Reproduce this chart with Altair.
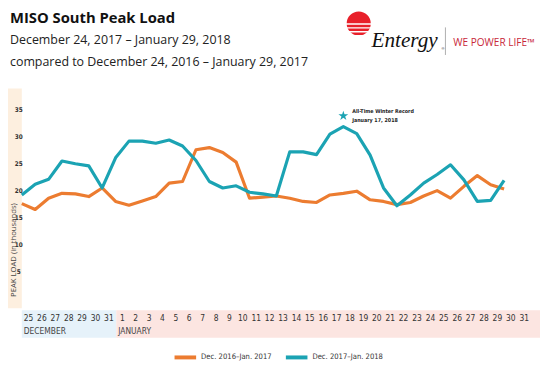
import altair as alt
import pandas as pd

# ---------------- data ----------------
day_names = (["Dec 24", "Dec 25", "Dec 26", "Dec 27", "Dec 28", "Dec 29", "Dec 30", "Dec 31"]
             + [f"Jan {i}" for i in range(1, 30)])
load_2016_17 = [17.6, 16.5, 18.6, 19.5, 19.4, 18.9, 20.5, 18.0,
                17.3, 18.1, 18.9, 21.4, 21.7, 27.6, 28.0, 27.1, 25.3, 18.6, 18.8, 19.0,
                18.6, 18.0, 17.8, 19.2, 19.5, 19.9, 18.3, 18.0, 17.4, 17.8, 19.0, 20.0,
                18.6, 20.8, 22.8, 21.1, 20.3]
load_2017_18 = [19.2, 21.2, 22.1, 25.5, 25.0, 24.6, 20.5, 26.1,
                29.2, 29.2, 28.8, 29.4, 28.3, 25.6, 21.7, 20.5, 20.9, 19.7, 19.4, 19.0,
                27.2, 27.2, 26.7, 30.5, 31.9, 30.6, 26.6, 20.5, 17.2, 19.2, 21.4, 23.0,
                24.8, 22.0, 18.0, 18.2, 21.9]
series_names = ["Dec. 2016\u2013Jan. 2017", "Dec. 2017\u2013Jan. 2018"]
series_colors = ["#EC7C30", "#1BA3B3"]
tick_labels = [str(d) for d in range(25, 32)] + [str(d) for d in range(1, 32)]
y_ticks = [5, 10, 15, 20, 25, 30, 35]
record_day = "Jan 17"
record_marker_value = 33.9
record_text = ["All-Time Winter Record", "January 17, 2018"]
months = ["DECEMBER", "JANUARY"]
month_colors = ["#E6F2FA", "#FCE5E1"]

title = "MISO South Peak Load"
subtitle1 = "December 24, 2017 \u2013 January 29, 2018"
subtitle2 = "compared to December 24, 2016 \u2013 January 29, 2017"

STAR_PATH = ("M0,-1L0.2245,-0.309L0.951,-0.309L0.363,0.118L0.588,0.809L0,0.382"
             "L-0.588,0.809L-0.363,0.118L-0.951,-0.309L-0.2245,-0.309Z")

# ---------------- tables ----------------
rows = []
for name, vals in zip(series_names, [load_2016_17, load_2017_18]):
    for i, v in enumerate(vals):
        rows.append({"d": i, "day": day_names[i], "value": v, "series": name})
lines_df = pd.DataFrame(rows)

ticks_df = pd.DataFrame({"d": [i + 0.5 for i in range(len(tick_labels))], "label": tick_labels})
month_df = pd.DataFrame({"d": [0.15, 7.2], "label": months})
band_df = pd.DataFrame({"d": [0, 7.05], "d2": [7.05, 38.68], "month": months})
rec_i = day_names.index(record_day)
star_df = pd.DataFrame({"d": [rec_i], "value": [record_marker_value]})

NARROW = "Liberation Sans Narrow, DejaVu Sans Condensed, sans-serif"
xscale = alt.Scale(domain=[0, 38.68], nice=False, zero=False)
yscale = alt.Scale(domain=[-2.2, 38.8], nice=False, zero=False)
yaxis = alt.Axis(values=y_ticks, title=None, grid=False, domain=False, ticks=False, tickSize=0,
                 labelFont=NARROW, labelFontSize=6.5, labelFontWeight="bold", labelColor="#333",
                 labelAlign="center", labelPadding=3.5, zindex=2)
X = alt.X("d:Q", scale=xscale, axis=None)
Y = alt.Y("value:Q", scale=yscale, axis=yaxis)

bands = alt.Chart(band_df).mark_rect().encode(
    x=X, x2="d2:Q",
    y=alt.value(224), y2=alt.value(252),
    fill=alt.Fill("month:N", scale=alt.Scale(domain=months, range=month_colors), legend=None),
)

beige = alt.Chart(pd.DataFrame({"a": [0]})).mark_rect(color="#FDEFDF").encode(
    x=alt.value(-14), x2=alt.value(0), y=alt.value(-1), y2=alt.value(222)
)

lines = alt.Chart(lines_df).mark_line(strokeWidth=3.2, strokeJoin="round").encode(
    x=X, y=Y,
    color=alt.Color("series:N", scale=alt.Scale(domain=series_names, range=series_colors),
                    legend=alt.Legend(orient="none", legendX=153, legendY=259, direction="horizontal",
                                      title=None, symbolType="stroke", symbolSize=480,
                                      symbolStrokeWidth=4, labelFont=NARROW, labelFontSize=7.7,
                                      labelColor="#333", columnPadding=6, labelOffset=3)),
)

star = alt.Chart(star_df).mark_point(shape=STAR_PATH, filled=True, size=110, color="#1BA3B3",
                                     opacity=1, strokeWidth=0).encode(x=X, y=Y)
star_t1 = alt.Chart(star_df.assign(t=record_text[0])).mark_text(
    align="left", baseline="middle", dx=9, dy=-5, font=NARROW, fontSize=5.4, fontWeight="bold", color="#222"
).encode(x=X, y=Y, text="t:N")
star_t2 = alt.Chart(star_df.assign(t=record_text[1])).mark_text(
    align="left", baseline="middle", dx=9, dy=4, font=NARROW, fontSize=5.4, fontWeight="bold", color="#222"
).encode(x=X, y=Y, text="t:N")

xlabels = alt.Chart(ticks_df).mark_text(baseline="middle", font=NARROW, fontSize=8.5, color="#333").encode(
    x=X, y=alt.value(232), text="label:N"
)
mlabels = alt.Chart(month_df).mark_text(align="left", baseline="middle", font=NARROW, fontSize=8.5, color="#444").encode(
    x=X, y=alt.value(245.5), text="label:N"
)


def txt(s, x, y, **kw):
    return alt.Chart(pd.DataFrame({"t": [s]})).mark_text(**kw).encode(
        x=alt.value(x), y=alt.value(y), text="t:N")


ytitle = txt("PEAK LOAD  (in thousands)", -8, 163, angle=270, align="center", baseline="middle",
             font="Open Sans", fontSize=7.8, color="#444")
t1 = txt(title, -12, -67.5, align="left", baseline="alphabetic", font="Open Sans", fontSize=15,
         fontWeight="bold", color="#111")
t2 = txt(subtitle1, -12, -46.5, align="left", baseline="alphabetic", font="Open Sans", fontSize=12.6, color="#222")
t3 = txt(subtitle2, -12, -24, align="left", baseline="alphabetic", font="Open Sans", fontSize=12.6, color="#222")

# logo
sun = alt.Chart(pd.DataFrame({"a": [0]})).mark_point(shape="circle", filled=True, size=600,
                                                      color="#E8202A", opacity=1).encode(
    x=alt.value(342), y=alt.value(-67))
stripes = [
    alt.Chart(pd.DataFrame({"a": [0]})).mark_rule(color="white", strokeWidth=1.5).encode(
        x=alt.value(326), x2=alt.value(358), y=alt.value(yy))
    for yy in [-66.5, -62.5, -58.5, -54.5]
]
entergy = txt("Entergy", 355, -43, align="left", baseline="alphabetic", font="Liberation Serif",
              fontSize=21.5, fontStyle="italic", color="#111")
reg = txt("\u00ae", 426, -40, align="left", baseline="alphabetic", font="Liberation Sans", fontSize=4, color="#111")
divider = alt.Chart(pd.DataFrame({"a": [0]})).mark_rule(color="#999", strokeWidth=0.8).encode(
    x=alt.value(430), y=alt.value(-63), y2=alt.value(-35))
wpl = txt("WE POWER LIFE\u2122", 438, -44.5, align="left", baseline="alphabetic", font="Open Sans",
          fontSize=10.2, color="#C8283A")

chart = alt.layer(
    bands, beige, lines, star, star_t1, star_t2, xlabels, mlabels, ytitle, t1, t2, t3,
    sun, *stripes, entergy, reg, divider, wpl
).properties(
    width=526, height=224,
    autosize=alt.AutoSizeParams(type="none"),
    padding={"left": 14, "top": 80, "right": 0, "bottom": 53},
    background="white",
).configure_view(stroke=None)

chart.save("out.html", embed_options={"renderer": "svg", "actions": False})
